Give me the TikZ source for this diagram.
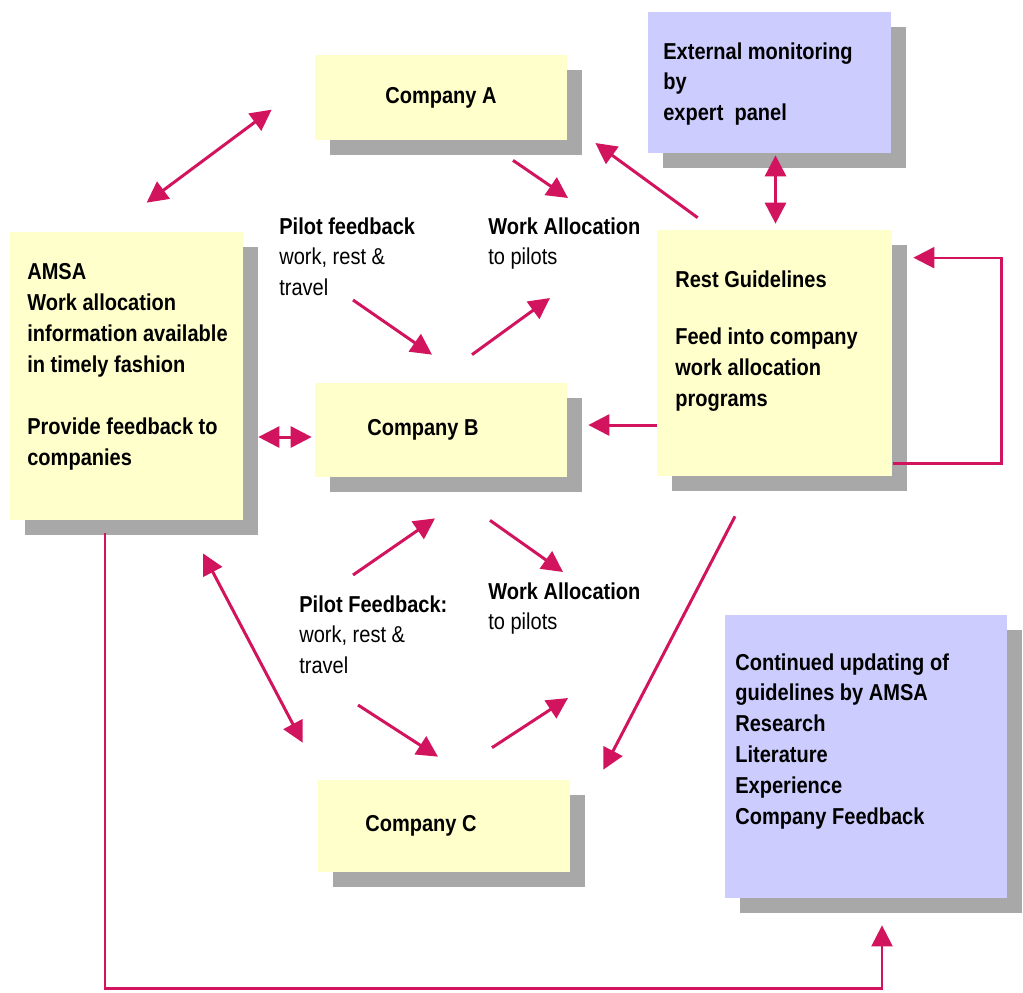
\documentclass[tikz,border=0pt]{standalone}
\usepackage{fontspec}
\setmainfont{Liberation Sans}[FakeStretch=0.87]
\usetikzlibrary{arrows.meta,shadows}

\newlength\pxu
\setlength\pxu{0.02cm}
\newcommand\dfont{\fontsize{13.1}{17.6}\selectfont}

\definecolor{pale}{RGB}{255,255,204}
\definecolor{lilac}{RGB}{204,204,255}
\definecolor{shade}{RGB}{168,168,168}
\definecolor{crim}{RGB}{210,20,95}

\tikzset{
	ybox/.style={rectangle, fill=pale, inner sep=0pt, font=\dfont\bfseries,
		drop shadow={shadow xshift=15\pxu, shadow yshift=-15\pxu, fill=shade, opacity=1}},
	bbox/.style={ybox, fill=lilac},
	txt/.style={anchor=north west, inner sep=0pt, align=left, font=\dfont},
	link/.style={draw=crim, line width=1.7pt},
	loopline/.style={draw=crim, line width=1.3pt, ->},
}

\begin{document}
\begin{tikzpicture}[x=0.02cm, y=-0.02cm, >={Triangle[length=0.42cm, width=0.42cm]}]

	\fill[white] (0,0) rectangle (1023,992);
	\useasboundingbox (0,0) rectangle (1023,992);

	\node[ybox, minimum width=252\pxu, minimum height=85\pxu] (compA) at (441,97.5) {Company A};
	\node[ybox, minimum width=252\pxu, minimum height=94\pxu] (compB) at (441,430) {Company B\hspace*{36\pxu}};
	\node[ybox, minimum width=252\pxu, minimum height=92\pxu] (compC) at (444,826) {Company C\hspace*{46\pxu}};
	\node[ybox, minimum width=233\pxu, minimum height=288\pxu] (amsa) at (126.5,376) {};
	\node[ybox, minimum width=235\pxu, minimum height=246\pxu] (rest) at (774.5,353) {};
	\node[bbox, minimum width=243\pxu, minimum height=141\pxu] (ext) at (769.5,82.5) {};
	\node[bbox, minimum width=282\pxu, minimum height=283\pxu] (cont) at (866,756.5) {};

	\node[txt, font=\dfont\bfseries] (amsatxt) at (27,263) {AMSA\\Work allocation\\information available\\in timely fashion\\[31\pxu]Provide feedback to\\companies};
	\node[txt, font=\dfont\bfseries] (resttxt) at (675,270) {Rest Guidelines\\[27\pxu]Feed into company\\work allocation\\programs};
	\node[txt, font=\dfont\bfseries] (exttxt) at (663,42) {External monitoring\\by\\expert\ \ panel};
	\node[txt, font=\dfont\bfseries] (conttxt) at (735,653) {Continued updating of\\guidelines by AMSA\\Research\\Literature\\Experience\\Company Feedback};

	\node[txt] (pf1) at (279,217) {\textbf{Pilot feedback}\\work, rest \&\\travel};
	\node[txt] (wa1) at (488,217) {\textbf{Work Allocation}\\to pilots};
	\node[txt] (pf2) at (299,595) {\textbf{Pilot Feedback:}\\work, rest \&\\travel};
	\node[txt] (wa2) at (488,582) {\textbf{Work Allocation}\\to pilots};

	\draw[link,<->] ([shift={(137,-29)}]amsa.north west) -- ([shift={(-43,55)}]compA.north west);
	\draw[link,->] ([shift={(72,20)}]compA.south) -- ([shift={(80,-19)}]wa1.north west);
	\draw[link,->] ([shift={(41,-12)}]rest.north west) -- ([shift={(28,45.5)}]compA.east);
	\draw[link,<->] ([shift={(6,2)}]ext.south) -- ([shift={(1,-6)}]rest.north);
	\draw[loopline] ([shift={(1,-13)}]rest.south east) -- ++(108,0) |- ([shift={(21,28)}]rest.north east);

	\draw[link,->] ([shift={(74,83)}]pf1.north west) -- ([shift={(-9,-28)}]compB.north);
	\draw[link,->] ([shift={(31,-28)}]compB.north) -- ([shift={(62,81)}]wa1.north west);
	\draw[link,->] ([shift={(0,72)}]rest.west) -- ([shift={(21,-5)}]compB.east);
	\draw[link,<->] ([shift={(15,61)}]amsa.east) -- ([shift={(-3,7)}]compB.west);
	\draw[link,->] ([shift={(54,-20)}]pf2.north west) -- ([shift={(-6,41)}]compB.south);
	\draw[link,->] ([shift={(49,43)}]compB.south) -- ([shift={(75,-10)}]wa2.north west);

	\draw[link,<->] ([shift={(76.5,33)}]amsa.south) -- ([shift={(-15,-37)}]compC.north west);
	\draw[link,->] ([shift={(59,110)}]pf2.north west) -- ([shift={(-6,-23)}]compC.north);
	\draw[link,->] ([shift={(48,-32)}]compC.north) -- ([shift={(80,116)}]wa2.north west);
	\draw[link,->] ([shift={(-39.5,40)}]rest.south) -- ([shift={(33,-10)}]compC.north east);
	\draw[loopline] ([shift={(-21.5,13)}]amsa.south) -- ++(0,455) -| ([shift={(16,27)}]cont.south);

\end{tikzpicture}
\end{document}
